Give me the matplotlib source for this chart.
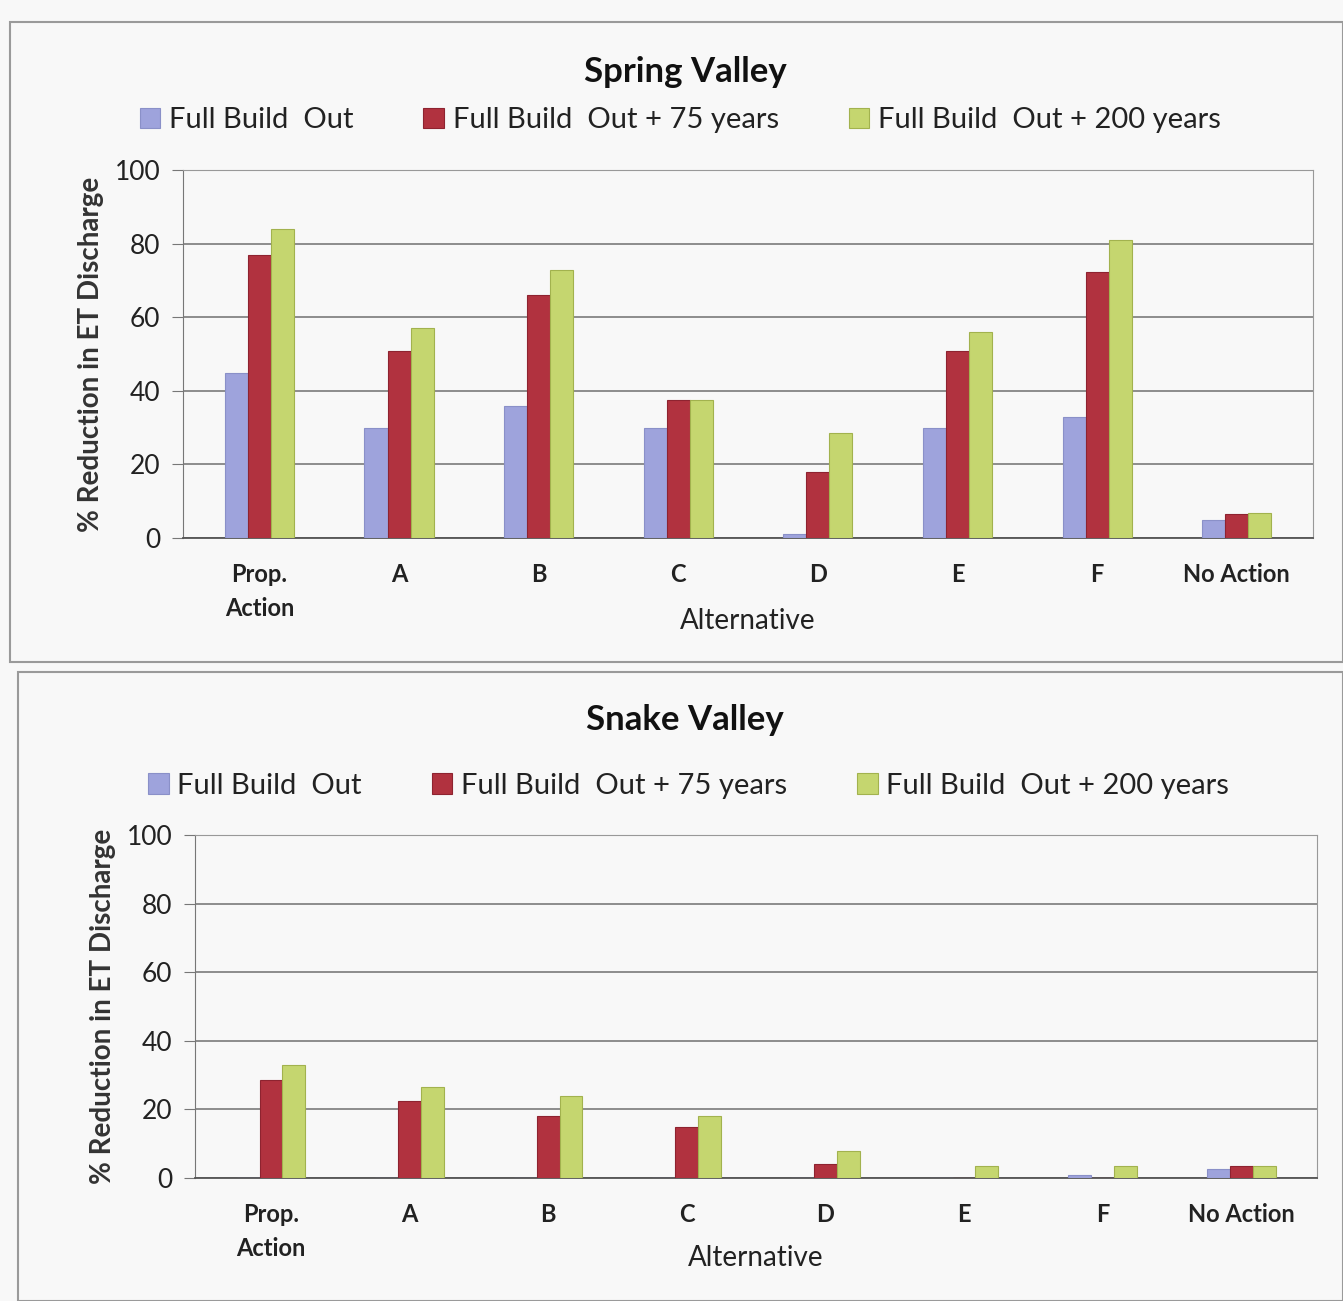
import matplotlib.pyplot as plt
import numpy as np
from matplotlib.patches import Rectangle

categories = ["Prop.\nAction", "A", "B", "C", "D", "E", "F", "No Action"]
series_names = ["Full Build  Out", "Full Build  Out + 75 years", "Full Build  Out + 200 years"]
colors = ["#9ea3dc", "#b1323f", "#c5d66f"]
edges = ["#8a90c8", "#8e2330", "#a2b24e"]

spring_full = [45, 30, 36, 30, 1, 30, 33, 5]
spring_75 = [77, 51, 66, 37.5, 18, 51, 72.5, 6.5]
spring_200 = [84, 57, 73, 37.5, 28.5, 56, 81, 6.8]

snake_full = [0, 0, 0, 0, 0, 0, 1, 2.5]
snake_75 = [28.5, 22.5, 18, 15, 4, 0, 0, 3.5]
snake_200 = [33, 26.5, 24, 18, 8, 3.5, 3.5, 3.5]

yticks = [0, 20, 40, 60, 80, 100]

plt.rcParams["font.family"] = ["Lato", "DejaVu Sans"]
bg = "#f8f8f8"
fig = plt.figure(figsize=(13.43, 13.01), dpi=100, facecolor=bg)


def draw_panel(rect, title, values, title_y, xlabel_y):
    ax = fig.add_axes(rect, facecolor=bg)
    x = np.arange(len(categories))
    w = 0.165
    for i, vals in enumerate(values):
        ax.bar(x + (i - 1) * w, vals, w, color=colors[i], edgecolor=edges[i],
               linewidth=0.8, label=series_names[i], zorder=3)
    ax.set_xlim(-0.55, len(categories) - 0.45)
    ax.set_ylim(0, 100)
    ax.set_yticks(yticks)
    ax.yaxis.grid(True, color="#7a7a7a", linewidth=1.2, zorder=0)
    for s in ["top", "right"]:
        ax.spines[s].set_color("#999999")
    ax.spines["left"].set_color("#777777")
    ax.spines["bottom"].set_color("#555555")
    ax.spines["bottom"].set_linewidth(1.3)
    ax.tick_params(axis="y", labelsize=19, length=8, color="#777777", labelcolor="#222222", pad=8)
    ax.tick_params(axis="x", length=0, pad=18)
    ax.set_xticks(x)
    ax.set_xticklabels(categories, fontsize=17, fontweight="bold", color="#222222",
                       linespacing=1.6)
    ax.set_xlabel("Alternative", fontsize=20, color="#222222")
    ax.xaxis.set_label_coords(0.5, xlabel_y)
    ax.set_ylabel("% Reduction in ET Discharge", fontsize=20, fontweight="bold",
                  color="#333333", labelpad=8)
    fig.text(0.51, title_y, title, fontsize=25, fontweight="bold", ha="center", color="#111111")
    ax.legend(loc="lower center", bbox_to_anchor=(0.44, 1.03), ncol=3, frameon=False,
              fontsize=21, columnspacing=2.4, handlelength=0.7, handleheight=0.7,
              handletextpad=0.3, labelcolor="#222222")
    return ax


draw_panel([0.136, 0.5865, 0.842, 0.2825], "Spring Valley",
           [spring_full, spring_75, spring_200], 0.937, -0.19)
draw_panel([0.145, 0.0945, 0.836, 0.2635], "Snake Valley",
           [snake_full, snake_75, snake_200], 0.439, -0.195)

fig.patches.append(Rectangle((10 / 1343, 1 - 662 / 1301), 1333 / 1343, 640 / 1301,
                             transform=fig.transFigure, fill=False,
                             edgecolor="#9a9a9a", linewidth=1.5))
fig.patches.append(Rectangle((18 / 1343, 0), 1325 / 1343, 1 - 672 / 1301,
                             transform=fig.transFigure, fill=False,
                             edgecolor="#9a9a9a", linewidth=1.5))

fig.savefig("out.png", dpi=100, facecolor=bg)
